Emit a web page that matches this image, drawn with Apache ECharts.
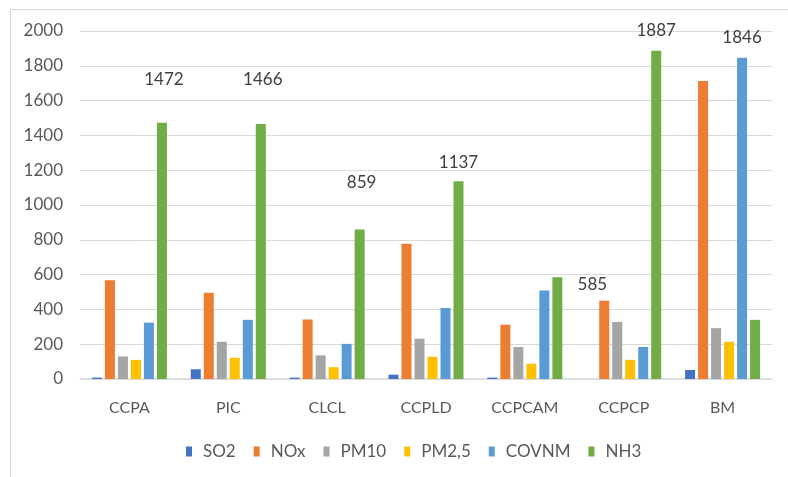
<!DOCTYPE html>
<html>
<head>
<meta charset="utf-8">
<script src="https://cdn.jsdelivr.net/npm/echarts@6/dist/echarts.min.js"></script>
<style>html,body{margin:0;padding:0;background:#fff}#c{width:788px;height:477px}</style>
</head>
<body>
<div id="c"></div>
<script>
var categories = ['CCPA', 'PIC', 'CLCL', 'CCPLD', 'CCPCAM', 'CCPCP', 'BM'];
var seriesNames = ['SO2', 'NOx', 'PM10', 'PM2,5', 'COVNM', 'NH3'];
var SO2   = [8, 56, 8, 25, 8, 0, 52];
var NOx   = [568, 496, 342, 778, 312, 450, 1712];
var PM10  = [130, 214, 136, 232, 184, 328, 292];
var PM25  = [110, 122, 68, 128, 88, 110, 214];
var COVNM = [324, 340, 202, 408, 508, 184, 1846];
var NH3   = [1472, 1466, 859, 1137, 585, 1887, 340];
var yTicks = [0, 200, 400, 600, 800, 1000, 1200, 1400, 1600, 1800, 2000];

// style only: manual nudges of the value labels (pixels), per category
var labelNudge = [[2, -23], [2, -24], [2, -27], [0, 2], [35, 28], [0, 0], [0, 0]];

var colors = ['#4472C4', '#ED7D31', '#A5A5A5', '#FFC000', '#5B9BD5', '#70AD47'];
var allSeries = [SO2, NOx, PM10, PM25, COVNM, NH3];
var font = 'Lato, "Open Sans", sans-serif';

// label the tallest bar of each category
var maxIdx = categories.map(function (c, i) {
  var best = 0;
  allSeries.forEach(function (s, k) { if (s[i] > allSeries[best][i]) best = k; });
  return best;
});

var series = allSeries.map(function (vals, k) {
  return {
    name: seriesNames[k],
    type: 'bar',
    barWidth: 10,
    barGap: '30%',
    itemStyle: { color: colors[k] },
    data: vals.map(function (v, i) {
      var d = { value: v };
      if (maxIdx[i] === k) {
        d.label = { show: true, position: 'top', distance: 12, offset: labelNudge[i],
          color: '#404040', fontSize: 17, fontFamily: font };
      }
      return d;
    })
  };
});

var chart = echarts.init(document.getElementById('c'), null, { renderer: 'canvas' });
chart.setOption({
  animation: false,
  color: colors,
  grid: { left: 80, right: 16, top: 31, bottom: 98, containLabel: false },
  graphic: [{
    type: 'rect', left: 8, top: 7, silent: true,
    shape: { width: 900, height: 600 },
    style: { fill: 'none', stroke: '#d9d9d9', lineWidth: 1 }
  }],
  legend: {
    left: 181, top: 438,
    itemWidth: 6, itemHeight: 10, itemGap: 18,
    icon: 'rect',
    textStyle: { color: '#595959', fontSize: 17, fontFamily: font, padding: [0, 0, 0, 6] },
    data: seriesNames
  },
  xAxis: {
    type: 'category',
    data: categories,
    axisLine: { lineStyle: { color: '#d9d9d9', width: 1.5 } },
    axisTick: { show: false },
    axisLabel: { color: '#595959', fontSize: 16, fontFamily: font, margin: 21 }
  },
  yAxis: {
    type: 'value',
    min: yTicks[0], max: yTicks[yTicks.length - 1], interval: 200,
    axisLine: { show: false },
    axisTick: { show: false },
    splitLine: { lineStyle: { color: '#d9d9d9', width: 1 } },
    axisLabel: { color: '#595959', fontSize: 17, fontFamily: font, margin: 17,
      formatter: function (v) { return String(v); } }
  },
  series: series
});
</script>
</body>
</html>
